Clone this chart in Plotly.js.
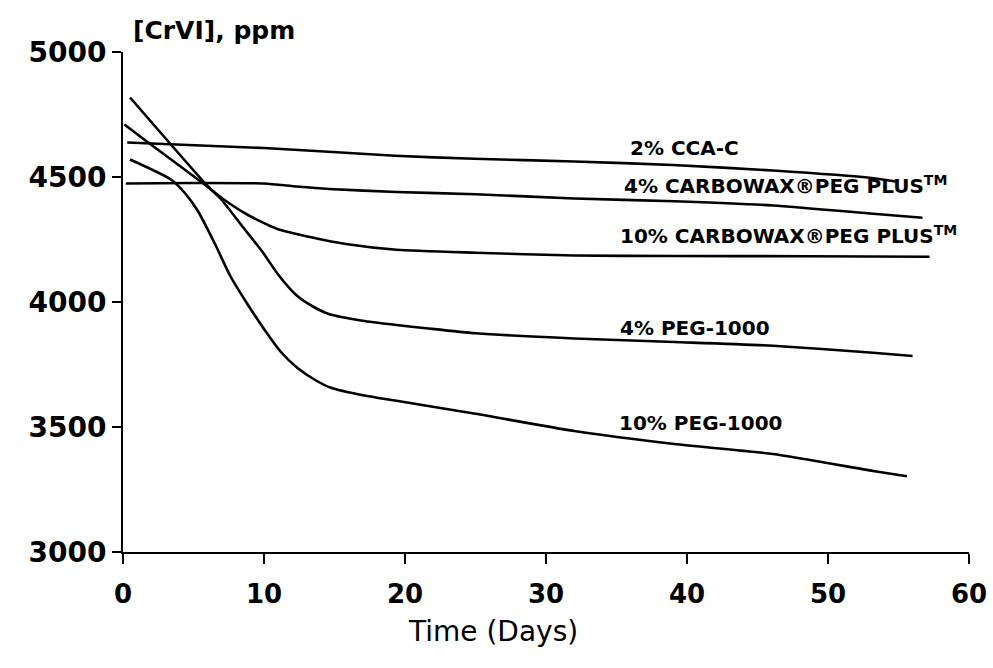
<!DOCTYPE html>
<html>
<head>
<meta charset="utf-8">
<script src="https://cdn.plot.ly/plotly-3.0.1.min.js"></script>
<style>html,body{margin:0;padding:0;background:#fff;}</style>
</head>
<body>
<div id="chart" style="width:993px;height:668px;"></div>
<script>
// Series names (curve labels)
const seriesNames = [
  "2% CCA-C",
  "4% CARBOWAX®PEG PLUS<sup>TM</sup>",
  "10% CARBOWAX®PEG PLUS<sup>TM</sup>",
  "4% PEG-1000",
  "10% PEG-1000"
];

// Time (days) and [CrVI] (ppm)
const cca2Days  = [0.3, 10.0, 19.3, 24.9, 32.0, 39.0, 46.1, 53.1, 54.8];
const cca2Vals  = [4638, 4616, 4585, 4573, 4562, 4548, 4526, 4496, 4482];

const carb4Days = [0.2, 5.0, 10.0, 12.3, 14.6, 19.4, 25.0, 32.0, 39.1, 46.1, 53.2, 56.7];
const carb4Vals = [4474, 4476, 4474, 4462, 4452, 4440, 4431, 4414, 4403, 4386, 4353, 4337];

const carb10Days = [0.1, 1.9, 5.6, 7.2, 8.8, 10.9, 13.5, 15.8, 19.4, 25.0, 32.0, 39.1, 48.5, 57.2];
const carb10Vals = [4710, 4633, 4478, 4408, 4350, 4293, 4257, 4232, 4209, 4197, 4186, 4184, 4183, 4181];

const peg4Days = [0.5, 5.9, 7.0, 8.5, 9.9, 11.0, 12.3, 13.5, 14.6, 17.0, 19.4, 21.5, 25.0, 32.0, 39.1, 46.1, 53.2, 56.0];
const peg4Vals = [4818, 4470, 4408, 4300, 4200, 4110, 4027, 3981, 3952, 3925, 3908, 3895, 3875, 3854, 3840, 3825, 3797, 3784];

const peg10Days = [0.5, 3.4, 4.4, 5.3, 6.5, 7.6, 8.8, 10.0, 11.2, 12.4, 13.6, 14.7, 17.1, 19.4, 25.0, 32.0, 39.1, 46.1, 53.2, 55.6];
const peg10Vals = [4570, 4490, 4435, 4365, 4235, 4105, 3994, 3892, 3800, 3735, 3689, 3658, 3626, 3605, 3553, 3484, 3432, 3392, 3324, 3303];

// Label anchor positions (day, ppm)
const labelDays = [35.8, 35.4, 35.1, 35.1, 35.0];
const labelVals = [4618, 4468, 4268, 3898, 3518];

// Axis ticks
const xTicks = [0, 10, 20, 30, 40, 50, 60];
const yTicks = [3000, 3500, 4000, 4500, 5000];

const xTitle = "Time (Days)";
const yTitle = "[CrVI], ppm";

const allDays = [cca2Days, carb4Days, carb10Days, peg4Days, peg10Days];
const allVals = [cca2Vals, carb4Vals, carb10Vals, peg4Vals, peg10Vals];

const traces = allDays.map((d, i) => ({
  x: d, y: allVals[i], type: "scatter", mode: "lines",
  name: seriesNames[i],
  line: {color: "#000", width: 2.6, shape: "spline", smoothing: 0.6},
  hoverinfo: "skip"
}));

const annotations = seriesNames.map((t, i) => ({
  x: labelDays[i], y: labelVals[i], xref: "x", yref: "y",
  text: t, showarrow: false, xanchor: "left", yanchor: "middle",
  font: {family: "DejaVu Sans", size: 20, color: "#000", weight: "bold"}
}));

annotations.push({
  text: yTitle, xref: "paper", yref: "paper",
  x: 0.01, y: 1.01, xanchor: "left", yanchor: "bottom", showarrow: false,
  font: {family: "DejaVu Sans", size: 25, color: "#000", weight: "bold"}
});
annotations.push({
  text: xTitle, xref: "paper", yref: "paper",
  x: 0.437, y: -0.122, xanchor: "center", yanchor: "top", showarrow: false,
  font: {family: "DejaVu Sans", size: 28, color: "#000"}
});

const layout = {
  width: 993, height: 668,
  margin: {l: 123, r: 24, t: 52, b: 116},
  paper_bgcolor: "#fff", plot_bgcolor: "#fff",
  showlegend: false,
  xaxis: {
    range: [0, 60], tickvals: xTicks, ticktext: xTicks.map(String),
    showgrid: false, zeroline: false, showline: true, linecolor: "#000", linewidth: 2,
    ticks: "outside", ticklen: 10, tickwidth: 2, tickcolor: "#000",
    ticklabelstandoff: 8,
    tickfont: {family: "DejaVu Sans", size: 26, color: "#000", weight: "bold"}
  },
  yaxis: {
    range: [3000, 5000], tickvals: yTicks, ticktext: yTicks.map(String),
    showgrid: false, zeroline: false, showline: true, linecolor: "#000", linewidth: 2,
    ticks: "outside", ticklen: 9, tickwidth: 2, tickcolor: "#000",
    tickfont: {family: "DejaVu Sans", size: 28, color: "#000", weight: "bold"}
  },
  annotations: annotations
};

Plotly.newPlot("chart", traces, layout, {displayModeBar: false, staticPlot: true});
</script>
</body>
</html>
